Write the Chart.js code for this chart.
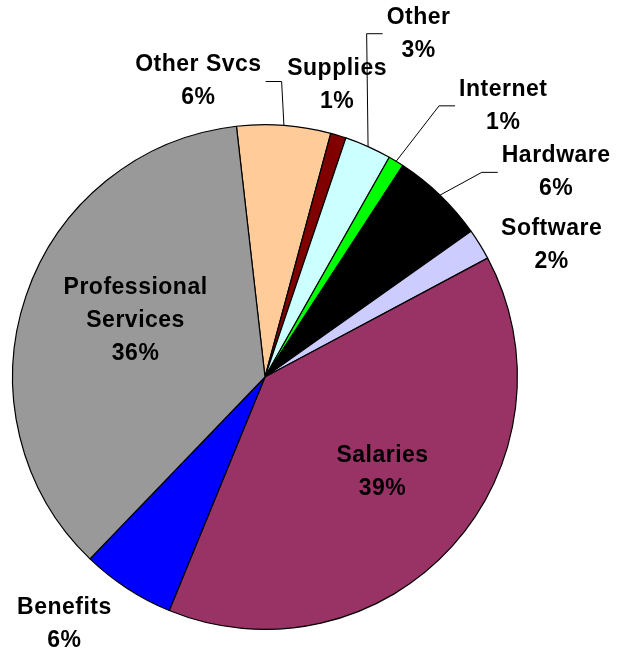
<!DOCTYPE html>
<html>
<head>
<meta charset="utf-8">
<script src="https://cdn.jsdelivr.net/npm/chart.js@4"></script>
<style>
  html, body { margin: 0; padding: 0; background: #ffffff; }
  #wrap { width: 620px; height: 652px; }
</style>
</head>
<body>
<div id="wrap"><canvas id="budget" width="620" height="652"></canvas></div>
<script>
// Budget breakdown by expense category (percent of total)
const categories = ["Other Svcs", "Supplies", "Other", "Internet", "Hardware", "Software", "Salaries", "Benefits", "Professional Services"];
const shares = [6, 1, 3, 1, 6, 2, 39, 6, 36];
const labelLines = [["Other Svcs"], ["Supplies"], ["Other"], ["Internet"], ["Hardware"], ["Software"], ["Salaries"], ["Benefits"], ["Professional", "Services"]];
const sliceColors = ["#FFCC99", "#800000", "#CCFFFF", "#00FF00", "#000000", "#CCCCFF", "#993366", "#0000FF", "#999999"];

// Label placement relative to each slice: distance as a fraction of the radius,
// angular nudge in degrees, and whether a leader line is drawn to the label.
const labelDist = [1.20, 1.19, 1.49, 1.43, 1.41, 1.25, 0.60, 1.26, 0.56];
const labelNudge = [-17, -3, 0, 10, 11, 7, -3, 6, 5];
const hasLeader = [true, false, true, true, true, false, false, false, false];

const FONT = "bold 23px 'Liberation Sans', Arial, sans-serif";
const LINE_H = 33;

const sliceLabels = {
  id: 'sliceLabels',
  afterDatasetsDraw(chart) {
    const ctx = chart.ctx;
    const meta = chart.getDatasetMeta(0);
    const total = shares.reduce((a, b) => a + b, 0);
    ctx.save();
    ctx.font = FONT;
    if ('letterSpacing' in ctx) ctx.letterSpacing = '0.5px';
    ctx.textAlign = 'center';
    ctx.textBaseline = 'middle';
    meta.data.forEach((arc, i) => {
      const p = arc.getProps(['x', 'y', 'startAngle', 'endAngle', 'outerRadius'], true);
      const mid = (p.startAngle + p.endAngle) / 2;
      const a = mid + labelNudge[i] * Math.PI / 180;
      const R = p.outerRadius;
      const cx = p.x + Math.cos(a) * R * labelDist[i];
      const cy = p.y + Math.sin(a) * R * labelDist[i];
      const lines = labelLines[i].concat([Math.round(shares[i] / total * 100) + '%']);
      const top = cy - (lines.length - 1) * LINE_H / 2;
      const maxW = ctx.measureText(lines[0]).width;
      lines.forEach((t, k) => {
        ctx.fillStyle = '#000000';
        ctx.fillText(t, cx, top + k * LINE_H);
      });
      if (hasLeader[i]) {
        const ex = p.x + Math.cos(mid) * R;
        const ey = p.y + Math.sin(mid) * R;
        const leftSide = cx > ex;
        const endX = leftSide ? cx - maxW / 2 - 4 : cx + maxW / 2 + 4;
        const elbowX = leftSide ? endX - 16 : endX + 16;
        ctx.beginPath();
        ctx.moveTo(ex, ey);
        ctx.lineTo(elbowX, cy);
        ctx.lineTo(endX, cy);
        ctx.strokeStyle = '#000000';
        ctx.lineWidth = 1;
        ctx.stroke();
      }
    });
    ctx.restore();
  }
};

new Chart(document.getElementById('budget'), {
  type: 'pie',
  data: {
    labels: categories,
    datasets: [{
      data: shares,
      backgroundColor: sliceColors,
      borderColor: '#000000',
      borderWidth: 1.2
    }]
  },
  options: {
    responsive: false,
    animation: false,
    rotation: -6.5,
    layout: { padding: { left: 12, right: 102, top: 124, bottom: 22 } },
    plugins: {
      legend: { display: false },
      tooltip: { enabled: false }
    }
  },
  plugins: [sliceLabels]
});
</script>
</body>
</html>
